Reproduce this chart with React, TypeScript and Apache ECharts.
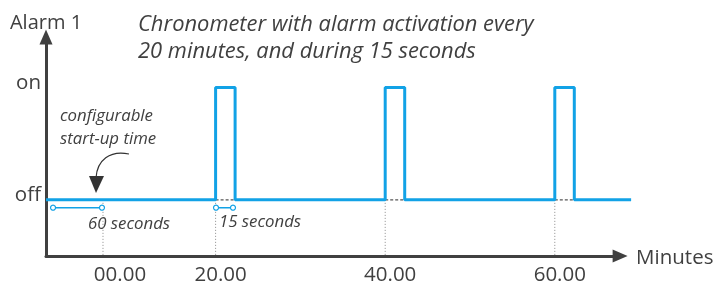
import React, { useEffect, useRef } from 'react';
import * as echarts from 'echarts';

const xTickPositions = [6.72, 20, 40, 60];
const xTickLabels = ['00.00', '20.00', '40.00', '60.00'];
const yLevelValues = [0, 1];
const yLevelLabels = ['off', 'on'];
const signalTimes = [0, 20, 22.3, 40, 42.3, 60, 62.3, 69];
const signalStates = [0, 1, 0, 1, 0, 1, 0, 0];
const pulseStarts = [20, 40, 60];
const pulseEnds = [22.3, 42.3, 62.3];
const startupSpan = [0.83, 6.6];
const pulseSpan = [20.05, 22.05];
const spanLevel = -0.07;

const X_MIN = 0;
const X_DATA_MAX = 69;
const X_AXIS_MAX = 67.7;
const Y_MIN = -0.5;
const Y_MAX = 1.45;

const BLUE = '#12a2e6';
const DARK = '#404040';
const FONT = '"Open Sans", sans-serif';
const PX_PER_UNIT = 8.48;
const LEFT = 46;
const W = 717;

export default function App() {
  const ref = useRef<HTMLDivElement>(null);
  useEffect(() => {
    if (!ref.current) return;
    const chart = echarts.init(ref.current, undefined, { renderer: 'svg' });
    const signal = signalTimes.map((t, i) => [t, signalStates[i]]);
    const series: any[] = [];
    xTickPositions.forEach((x) => {
      series.push({
        type: 'line',
        data: [[x, 0], [x, Y_MIN]],
        symbol: 'none',
        silent: true,
        z: 1,
        lineStyle: { color: '#8a8a8a', width: 1, type: [1, 2] },
      });
    });
    pulseStarts.forEach((s, i) => {
      series.push({
        type: 'line',
        data: [[s, 0], [pulseEnds[i], 0]],
        symbol: 'none',
        silent: true,
        z: 1,
        lineStyle: { color: '#555', width: 1.3, type: [3, 2] },
      });
    });
    [startupSpan, pulseSpan].forEach((sp) => {
      series.push({
        type: 'line',
        data: [[sp[0], spanLevel], [sp[1], spanLevel]],
        symbol: 'circle',
        symbolSize: 5,
        showSymbol: true,
        silent: true,
        z: 3,
        itemStyle: { color: '#fff', borderColor: BLUE, borderWidth: 1.2 },
        lineStyle: { color: BLUE, width: 1.5 },
      });
    });
    series.push({
      type: 'line',
      data: signal,
      step: 'end',
      symbol: 'none',
      z: 4,
      lineStyle: { color: BLUE, width: 3 },
    });

    const italic = (text: string, x: number, y: number, size: number) => ({
      type: 'text',
      x,
      y,
      style: {
        text,
        fill: DARK,
        font: `italic ${size}px "Open Sans", sans-serif`,
        textAlign: 'left',
        textVerticalAlign: 'middle',
      },
    });

    const dataRight = W - LEFT - (X_DATA_MAX - X_MIN) * PX_PER_UNIT;
    const axisRight = W - LEFT - (X_AXIS_MAX - X_MIN) * PX_PER_UNIT;

    chart.setOption({
      animation: false,
      grid: [
        { left: LEFT, top: 37, right: dataRight, bottom: 31, containLabel: false },
        { left: LEFT, top: 37, right: axisRight, bottom: 31, containLabel: false },
      ],
      xAxis: [
        {
          gridIndex: 0,
          type: 'value',
          min: X_MIN,
          max: X_DATA_MAX,
          show: false,
        },
        {
          gridIndex: 1,
          type: 'value',
          min: X_MIN,
          max: X_AXIS_MAX,
          name: 'Minutes',
          nameLocation: 'end',
          nameGap: 16,
          nameTextStyle: { color: DARK, fontFamily: FONT, fontSize: 20.5, align: 'left', verticalAlign: 'middle' },
          splitLine: { show: false },
          axisTick: { show: false },
          axisLine: {
            onZero: false,
            symbol: ['none', 'triangle'],
            symbolSize: [13, 15],
            lineStyle: { color: DARK, width: 3 },
          },
          axisLabel: {
            customValues: xTickPositions,
            margin: 6,
            formatter: (v: number) => {
              const i = xTickPositions.indexOf(v);
              if (i < 0) return '';
              return i === 0 ? `{a|${xTickLabels[i]}}` : `{b|${xTickLabels[i]}}`;
            },
            rich: {
              a: { color: DARK, fontFamily: FONT, fontSize: 20.5, padding: [0, 0, 0, 34] },
              b: { color: DARK, fontFamily: FONT, fontSize: 20.5, padding: [0, 0, 0, 10] },
            },
          },
        },
      ],
      yAxis: [
        {
          gridIndex: 0,
          type: 'value',
          min: Y_MIN,
          max: Y_MAX,
          name: 'Alarm 1',
          nameLocation: 'end',
          nameGap: 6,
          nameTextStyle: { color: DARK, fontFamily: FONT, fontSize: 20, align: 'center', verticalAlign: 'bottom' },
          splitLine: { show: false },
          axisTick: { show: false },
          axisLine: {
            onZero: false,
            symbol: ['none', 'triangle'],
            symbolSize: [13, 15],
            lineStyle: { color: DARK, width: 3 },
          },
          axisLabel: {
            customValues: yLevelValues,
            margin: 5,
            formatter: (v: number) => {
              const i = yLevelValues.indexOf(v);
              return i < 0 ? '' : `{l|${yLevelLabels[i]}}`;
            },
            rich: {
              l: { color: DARK, fontFamily: FONT, fontSize: 20.5, padding: [0, 0, 14, 0] },
            },
          },
        },
        {
          gridIndex: 1,
          type: 'value',
          min: Y_MIN,
          max: Y_MAX,
          show: false,
        },
      ],
      graphic: [
        italic('Chronometer with alarm activation every', 138, 22, 21.9),
        italic('20 minutes, and during 15 seconds', 138, 49, 21.9),
        italic('configurable', 60, 114, 16.8),
        italic('start-up time', 60, 137, 16.8),
        italic('60 seconds', 88, 222, 16.8),
        italic('15 seconds', 219, 220, 16.8),
        {
          type: 'bezierCurve',
          shape: { x1: 129, y1: 154, cpx1: 110, cpy1: 150, cpx2: 97, cpy2: 160, x2: 96, y2: 178 },
          style: { stroke: '#333', lineWidth: 1.2, fill: null },
        },
        {
          type: 'polygon',
          shape: { points: [[89, 176], [104, 176], [96, 193]] },
          style: { fill: '#333' },
        },
      ],
      series: series.map((s) => ({ ...s, xAxisIndex: 0, yAxisIndex: 0 })),
    });
    return () => chart.dispose();
  }, []);
  return <div ref={ref} style={{ position: 'fixed', left: 0, top: 0, width: 717, height: 287 }} />;
}
